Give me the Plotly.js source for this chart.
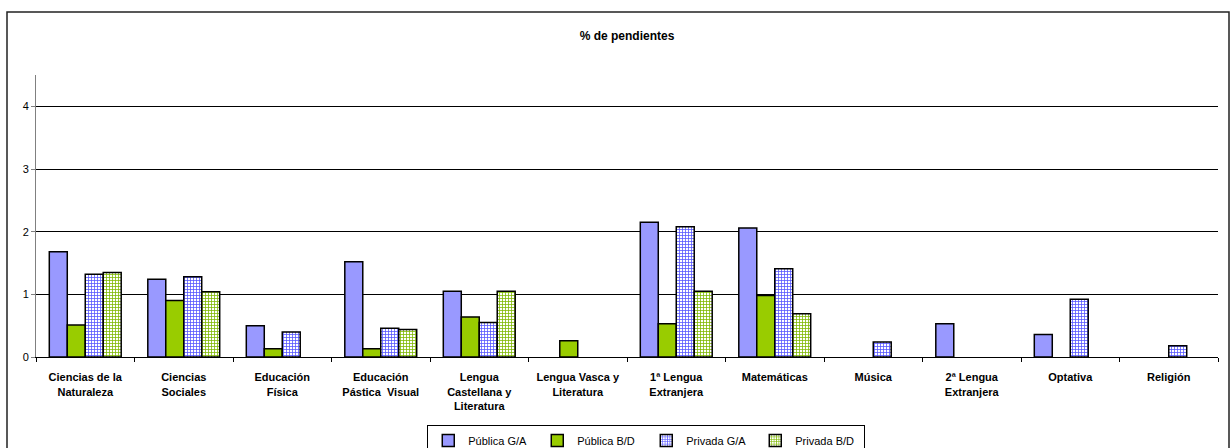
<!DOCTYPE html>
<html>
<head>
<meta charset="utf-8">
<script src="https://cdn.plot.ly/plotly-3.0.1.min.js"></script>
<style>
  html, body { margin: 0; padding: 0; background: #fff; }
  #chart { width: 1231px; height: 448px; }
</style>
</head>
<body>
<div id="chart"></div>
<script>
const categories = [
  "Ciencias de la<br>Naturaleza",
  "Ciencias<br>Sociales",
  "Educación<br>Física",
  "Educación<br>Pástica  Visual",
  "Lengua<br>Castellana y<br>Literatura",
  "Lengua Vasca y<br>Literatura",
  "1ª Lengua<br>Extranjera",
  "Matemáticas",
  "Música",
  "2ª Lengua<br>Extranjera",
  "Optativa",
  "Religión"
];
const seriesNames = ["Pública G/A", "Pública B/D", "Privada G/A", "Privada B/D"];
const publicaGA  = [1.68, 1.24, 0.50, 1.52, 1.05, null, 2.15, 2.06, null, 0.53, 0.36, null];
const publicaBD  = [0.51, 0.90, 0.13, 0.13, 0.64, 0.26, 0.53, 0.98, null, null, null, null];
const privadaGA  = [1.32, 1.28, 0.40, 0.46, 0.55, null, 2.08, 1.41, 0.24, null, 0.92, 0.18];
const privadaBD  = [1.35, 1.04, null, 0.44, 1.05, null, 1.05, 0.69, null, null, null, null];
const yTicks = [0, 1, 2, 3, 4];

const blue = "#9999FF", green = "#99CC00";
const outline = { color: "#000", width: 1.5 };

const traces = [
  { name: seriesNames[0], y: publicaGA, marker: { color: blue, line: outline } },
  { name: seriesNames[1], y: publicaBD, marker: { color: green, line: outline } },
  { name: seriesNames[2], y: privadaGA, marker: { color: "#fff", line: outline,
      pattern: { shape: "+", fgcolor: "#5555FF", bgcolor: "#fff", fgopacity: 1, size: 3, solidity: 0.45, fillmode: "replace" } } },
  { name: seriesNames[3], y: privadaBD, marker: { color: "#fff", line: outline,
      pattern: { shape: "+", fgcolor: "#7DB800", bgcolor: "#fff", fgopacity: 1, size: 3, solidity: 0.45, fillmode: "replace" } } }
].map(t => Object.assign({ type: "bar", x: categories, hoverinfo: "skip" }, t));

const L = 36, R = 1218, T = 75, B = 357;
const px = v => (v - L) / (R - L);
const py = v => (B - v) / (B - T);

const layout = {
  width: 1231, height: 448,
  margin: { l: L, r: 1231 - R, t: T, b: 448 - B },
  paper_bgcolor: "#fff", plot_bgcolor: "#fff",
  font: { family: "Arial, 'Liberation Sans', sans-serif", size: 10, color: "#000" },
  title: { text: "<b>% de pendientes</b>", x: 0.5, xref: "paper", y: 1 - 36 / 448, yanchor: "middle",
           font: { size: 12, color: "#000" } },
  barmode: "group", bargap: 0.27, bargroupgap: 0,
  showlegend: true,
  legend: {
    orientation: "h", xref: "container", yref: "container", x: 0.525, xanchor: "center",
    y: 1 - 425 / 448, yanchor: "top",
    bordercolor: "#000", borderwidth: 1, bgcolor: "#fff",
    font: { size: 11, color: "#000" }, itemwidth: 30, entrywidth: 64, entrywidthmode: "pixels",
    traceorder: "normal"
  },
  xaxis: {
    type: "category", tickson: "boundaries", ticks: "outside", ticklen: 4, tickcolor: "#000",
    showline: true, linecolor: "#000", linewidth: 1, showgrid: false, zeroline: false,
    tickangle: 0, ticklabelstandoff: 10,
    tickfont: { size: 11, color: "#000", weight: "bold" }, automargin: false
  },
  yaxis: {
    range: [0, 4.5], tickvals: yTicks, ticktext: yTicks.map(String),
    ticks: "outside", ticklen: 4, tickcolor: "#808080",
    showline: true, linecolor: "#808080", linewidth: 1,
    showgrid: true, gridcolor: "#000", gridwidth: 1, zeroline: false,
    tickfont: { size: 11, color: "#000" }, automargin: false
  },
  shapes: [
    { type: "rect", xref: "paper", yref: "paper", x0: px(7), x1: px(1229), y0: py(470), y1: py(12),
      line: { color: "#222", width: 1.5 }, fillcolor: "rgba(0,0,0,0)", layer: "below" }
  ]
};

Plotly.newPlot("chart", traces, layout, { displayModeBar: false, staticPlot: true });
</script>
</body>
</html>
